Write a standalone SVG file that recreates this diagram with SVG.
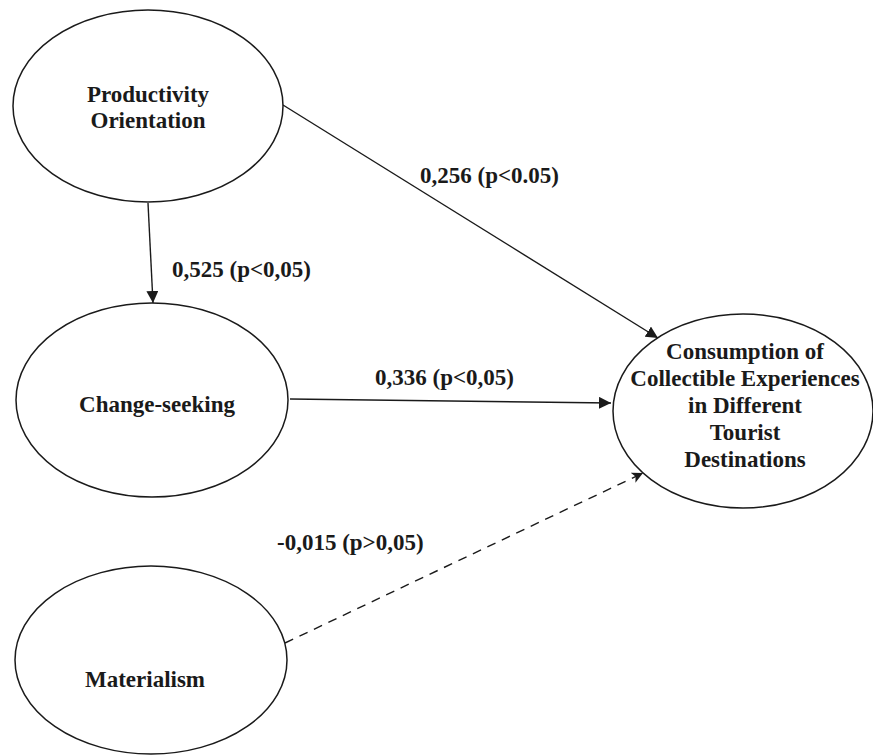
<svg xmlns="http://www.w3.org/2000/svg" width="873" height="755" viewBox="0 0 873 755">
<defs>
<style>
.node ellipse{fill:#fff;stroke:#1a1a1a;stroke-width:1.5}
text{font-family:"Liberation Serif","Times New Roman",serif;font-weight:bold;font-size:23px;fill:#1a1a1a;text-anchor:middle}
.lbl{text-anchor:start}
.edge{stroke:#1a1a1a;stroke-width:1.4;fill:none}
.dash{stroke-dasharray:9 7}
</style>
<marker id="arr" viewBox="0 0 12 12" refX="12" refY="6" markerWidth="12" markerHeight="12" markerUnits="userSpaceOnUse" orient="auto">
<path d="M0,0 L12,6 L0,12 Z" fill="#1a1a1a"/>
</marker>
<marker id="arrs" viewBox="0 0 12 12" refX="12" refY="6" markerWidth="11" markerHeight="11" markerUnits="userSpaceOnUse" orient="auto">
<path d="M0,0 L12,6 L0,12 L3,6 Z" fill="#1a1a1a"/>
</marker>
</defs>
<rect width="873" height="755" fill="#fff"/>
<g id="connectors">
<line class="edge" x1="148" y1="203" x2="153" y2="303" marker-end="url(#arr)"/>
<line class="edge" x1="283" y1="105" x2="658" y2="338" marker-end="url(#arr)"/>
<line class="edge" x1="290" y1="399" x2="611" y2="403" marker-end="url(#arr)"/>
<line class="edge dash" x1="285" y1="643" x2="643" y2="473" marker-end="url(#arrs)"/>
<text class="lbl" x="420" y="183">0,256 (p&lt;0.05)</text>
<text class="lbl" x="172" y="277">0,525 (p&lt;0,05)</text>
<text class="lbl" x="375" y="385">0,336 (p&lt;0,05)</text>
<text class="lbl" x="277" y="550">-0,015 (p&gt;0,05)</text>
</g>
<g id="productivity" class="node">
<ellipse cx="148" cy="106" rx="135" ry="96"/>
<text x="148" y="102">Productivity</text>
<text x="148" y="128">Orientation</text>
</g>
<g id="change" class="node">
<ellipse cx="152" cy="400" rx="136" ry="97"/>
<text x="157" y="412">Change-seeking</text>
</g>
<g id="materialism" class="node">
<ellipse cx="151" cy="660" rx="136" ry="94"/>
<text x="145" y="687">Materialism</text>
</g>
<g id="consumption" class="node">
<ellipse cx="743" cy="411" rx="130" ry="97"/>
<text x="745" y="359">Consumption of</text>
<text x="745" y="386">Collectible Experiences</text>
<text x="745" y="413">in Different</text>
<text x="745" y="440">Tourist</text>
<text x="745" y="467">Destinations</text>
</g>
</svg>
